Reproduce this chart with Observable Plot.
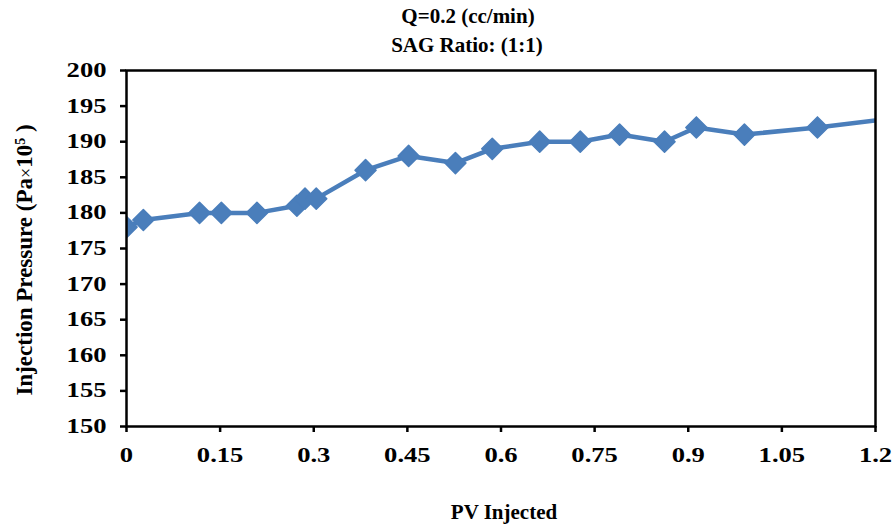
<!DOCTYPE html>
<html>
<head>
<meta charset="utf-8">
<script src="https://cdn.jsdelivr.net/npm/d3@7"></script>
<script src="https://cdn.jsdelivr.net/npm/@observablehq/plot@0.6"></script>
<style>
  html, body { margin: 0; padding: 0; background: #fff; }
  #chart svg { display: block; }
</style>
</head>
<body>
<div id="chart"></div>
<script>
// Data
const pvInjected = [0, 0.027, 0.117, 0.152, 0.209, 0.273, 0.286, 0.304, 0.383, 0.452, 0.527, 0.586, 0.662, 0.727, 0.790, 0.862, 0.913, 0.990, 1.107, 1.25];
const injectionPressure = [178, 179, 180, 180, 180, 181, 182, 182, 186, 188, 187, 189, 190, 190, 191, 190, 192, 191, 192, 193.5];

const xTicks = [0, 0.15, 0.3, 0.45, 0.6, 0.75, 0.9, 1.05, 1.2];
const xTickLabels = ["0", "0.15", "0.3", "0.45", "0.6", "0.75", "0.9", "1.05", "1.2"];
const yTicks = [150, 155, 160, 165, 170, 175, 180, 185, 190, 195, 200];
const yTickLabels = ["150", "155", "160", "165", "170", "175", "180", "185", "190", "195", "200"];

const titleLines = ["Q=0.2 (cc/min)", "SAG Ratio: (1:1)"];
const xLabel = "PV Injected";

const data = pvInjected.map((x, i) => ({x, y: injectionPressure[i]}));
const color = "#4A7EBB";
const font = "'Liberation Serif', 'Times New Roman', serif";

const W = 892, H = 525;
const chart = Plot.plot({
  width: W,
  height: H,
  marginLeft: 126,
  marginRight: 17,
  marginTop: 70,
  marginBottom: 99,
  style: {fontFamily: font, fontWeight: "bold", fontSize: "20px", color: "#000", background: "#fff"},
  x: {domain: [0, 1.2]},
  y: {domain: [150, 200]},
  marks: [
    Plot.line(data, {x: "x", y: "y", stroke: color, strokeWidth: 4.5, clip: true}),
    Plot.dot(data, {x: "x", y: "y", symbol: "diamond2", r: 9.5, fill: color, stroke: color, strokeWidth: 1.5, strokeLinejoin: "round", clip: true}),
    Plot.frame({stroke: "#000", strokeWidth: 2.5}),
    Plot.axisY({ticks: yTicks, tickFormat: (d) => yTickLabels[yTicks.indexOf(d)], tickSize: 6, tickPadding: 14, strokeWidth: 2.5, label: null}),
    Plot.axisX({ticks: xTicks, tickFormat: (d) => xTickLabels[xTicks.indexOf(d)], tickSize: 6, tickPadding: 15, strokeWidth: 2.5, label: null})
  ]
});

const svg = d3.select(chart);
// widen tick labels like the reference's stretched bold serif digits
svg.selectAll('g[aria-label="y-axis tick label"] text, g[aria-label="x-axis tick label"] text')
  .style("font-size", "20px")
  .attr("transform", function() { return (this.getAttribute("transform") || "") + " scale(1.33,1)"; });

svg.append("text")
  .attr("x", 468).attr("y", 23)
  .attr("text-anchor", "middle")
  .style("font-family", font).style("font-weight", "bold").style("font-size", "21px")
  .text(titleLines[0]);
svg.append("text")
  .attr("x", 467).attr("y", 52)
  .attr("text-anchor", "middle")
  .style("font-family", font).style("font-weight", "bold").style("font-size", "21px")
  .text(titleLines[1]);
svg.append("text")
  .attr("x", 504).attr("y", 519)
  .attr("text-anchor", "middle")
  .style("font-family", font).style("font-weight", "bold").style("font-size", "21px")
  .text(xLabel);
const yl = svg.append("text")
  .attr("transform", "translate(32,260) rotate(-90)")
  .attr("text-anchor", "middle")
  .style("font-family", font).style("font-weight", "bold").style("font-size", "23px");
yl.append("tspan").text("Injection Pressure (Pa");
yl.append("tspan").style("font-weight", "normal").style("font-size", "18px").text("×");
yl.append("tspan").text("10");
yl.append("tspan").attr("baseline-shift", "super").style("font-size", "14px").text("5");
yl.append("tspan").text(" )");

document.getElementById("chart").appendChild(chart);
</script>
</body>
</html>
